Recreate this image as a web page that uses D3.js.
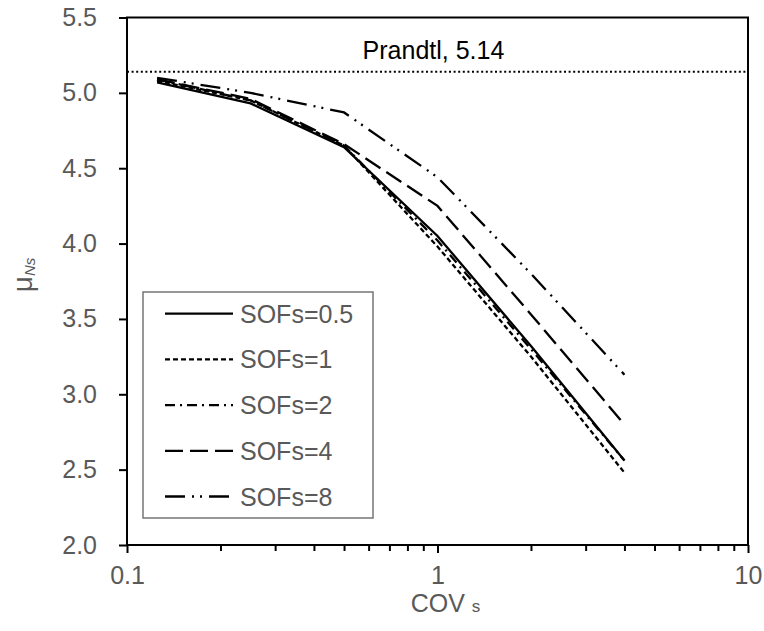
<!DOCTYPE html>
<html>
<head>
<meta charset="utf-8">
<script src="https://cdn.jsdelivr.net/npm/d3@7"></script>
<style>
  body { margin: 0; background: #fff; }
  text { font-family: "Liberation Sans", Arial, sans-serif; }
</style>
</head>
<body>
<div id="chart"></div>
<script>
// values
let covs = [0.125, 0.25, 0.5, 1, 2, 4];
let sof05 = [5.07, 4.93, 4.64, 4.05, 3.32, 2.56];
let sof1  = [5.08, 4.95, 4.65, 3.98, 3.25, 2.48];
let sof2  = [5.09, 4.95, 4.65, 4.02, 3.30, 2.56];
let sof4  = [5.09, 4.96, 4.66, 4.25, 3.53, 2.80];
let sof8  = [5.10, 5.00, 4.87, 4.44, 3.80, 3.13];
let seriesNames = ["SOFs=0.5", "SOFs=1", "SOFs=2", "SOFs=4", "SOFs=8"];
let prandtl = 5.14;
let yTicks = [2.0, 2.5, 3.0, 3.5, 4.0, 4.5, 5.0, 5.5];
let xTicks = [0.1, 1, 10];

let dashes = [null, "5,3", "10,5,2,5", "18,7", "20,7,2,6,2,7"];
let seriesValues = [sof05, sof1, sof2, sof4, sof8];

let width = 764, height = 631;
let margin = {left: 127, right: 16, top: 17.5, bottom: 86};

let svg = d3.select("#chart").append("svg")
    .attr("width", width)
    .attr("height", height);

let x = d3.scaleLog()
    .domain([0.1, 10])
    .range([margin.left, width - margin.right]);

let y = d3.scaleLinear()
    .domain([2, 5.5])
    .range([height - margin.bottom, margin.top]);

// frame
svg.append("rect")
    .attr("x", margin.left)
    .attr("y", margin.top)
    .attr("width", x(10) - x(0.1))
    .attr("height", y(2) - y(5.5))
    .attr("fill", "none")
    .attr("stroke", "black")
    .attr("stroke-width", 2);

// y axis
svg.append("g")
    .attr("transform", "translate(" + margin.left + ",0)")
    .call(d3.axisLeft(y).tickValues(yTicks).tickFormat(d3.format(".1f")).tickSize(8).tickPadding(22));

// x axis, major + minor ticks
let minor = [];
[0.1, 1].forEach((d) => { for (let k = 2; k <= 9; k++) minor.push(d * k); });

svg.append("g")
    .attr("transform", "translate(0," + y(2) + ")")
    .call(d3.axisBottom(x).tickValues(minor).tickFormat("").tickSize(6));

svg.append("g")
    .attr("transform", "translate(0," + y(2) + ")")
    .call(d3.axisBottom(x).tickValues(xTicks).tickFormat((d) => d3.format("~g")(d)).tickSize(8).tickPadding(13));

svg.selectAll(".domain").remove();
svg.selectAll(".tick line").attr("stroke", "black").attr("stroke-width", 2);
svg.selectAll(".tick text")
    .attr("fill", "#595959")
    .style("font-size", "25px")
    .style("font-family", "'Liberation Sans', Arial, sans-serif");

// Prandtl line
svg.append("line")
    .attr("x1", x(0.1))
    .attr("x2", x(10))
    .attr("y1", y(prandtl))
    .attr("y2", y(prandtl))
    .attr("stroke", "black")
    .attr("stroke-width", 2)
    .attr("stroke-dasharray", "2,2.6");

svg.append("text")
    .attr("x", x(1) - 4)
    .attr("y", y(prandtl) - 13)
    .attr("text-anchor", "middle")
    .style("font-size", "25px")
    .attr("fill", "black")
    .text("Prandtl, " + prandtl);

// series
let line = d3.line()
    .x((d, i) => x(covs[i]))
    .y((d) => y(d));

svg.selectAll("path.series")
    .data(seriesValues)
    .enter()
    .append("path")
    .classed("series", true)
    .attr("d", line)
    .attr("fill", "none")
    .attr("stroke", "black")
    .attr("stroke-width", 2.3)
    .attr("stroke-dasharray", (d, i) => dashes[i]);

// legend
let legend = svg.append("g").attr("transform", "translate(143,292)");
legend.append("rect")
    .attr("width", 230)
    .attr("height", 226)
    .attr("fill", "white")
    .attr("stroke", "#767676")
    .attr("stroke-width", 1.5);

let items = legend.selectAll("g.item")
    .data(seriesNames)
    .enter()
    .append("g")
    .classed("item", true)
    .attr("transform", (d, i) => "translate(0," + (21.7 + i * 45.7) + ")");

items.append("line")
    .attr("x1", 22)
    .attr("x2", 90)
    .attr("stroke", "black")
    .attr("stroke-width", 2.3)
    .attr("stroke-dasharray", (d, i) => dashes[i]);

items.append("text")
    .attr("x", 97)
    .attr("dy", "0.36em")
    .attr("fill", "#595959")
    .style("font-size", "25px")
    .text((d) => d);

// axis titles
let xt = svg.append("text")
    .attr("x", x(1) + 8)
    .attr("y", 612)
    .attr("text-anchor", "middle")
    .attr("fill", "#595959")
    .style("font-size", "25px");
xt.append("tspan").text("COV ");
xt.append("tspan").style("font-size", "17px").text("s");

let yt = svg.append("text")
    .attr("transform", "translate(32,275) rotate(-90)")
    .attr("text-anchor", "middle")
    .attr("fill", "#595959");
yt.append("tspan").style("font-size", "28px").text("μ");
yt.append("tspan").style("font-size", "15px").style("font-style", "italic").attr("dy", 3).text("Ns");
</script>
</body>
</html>
